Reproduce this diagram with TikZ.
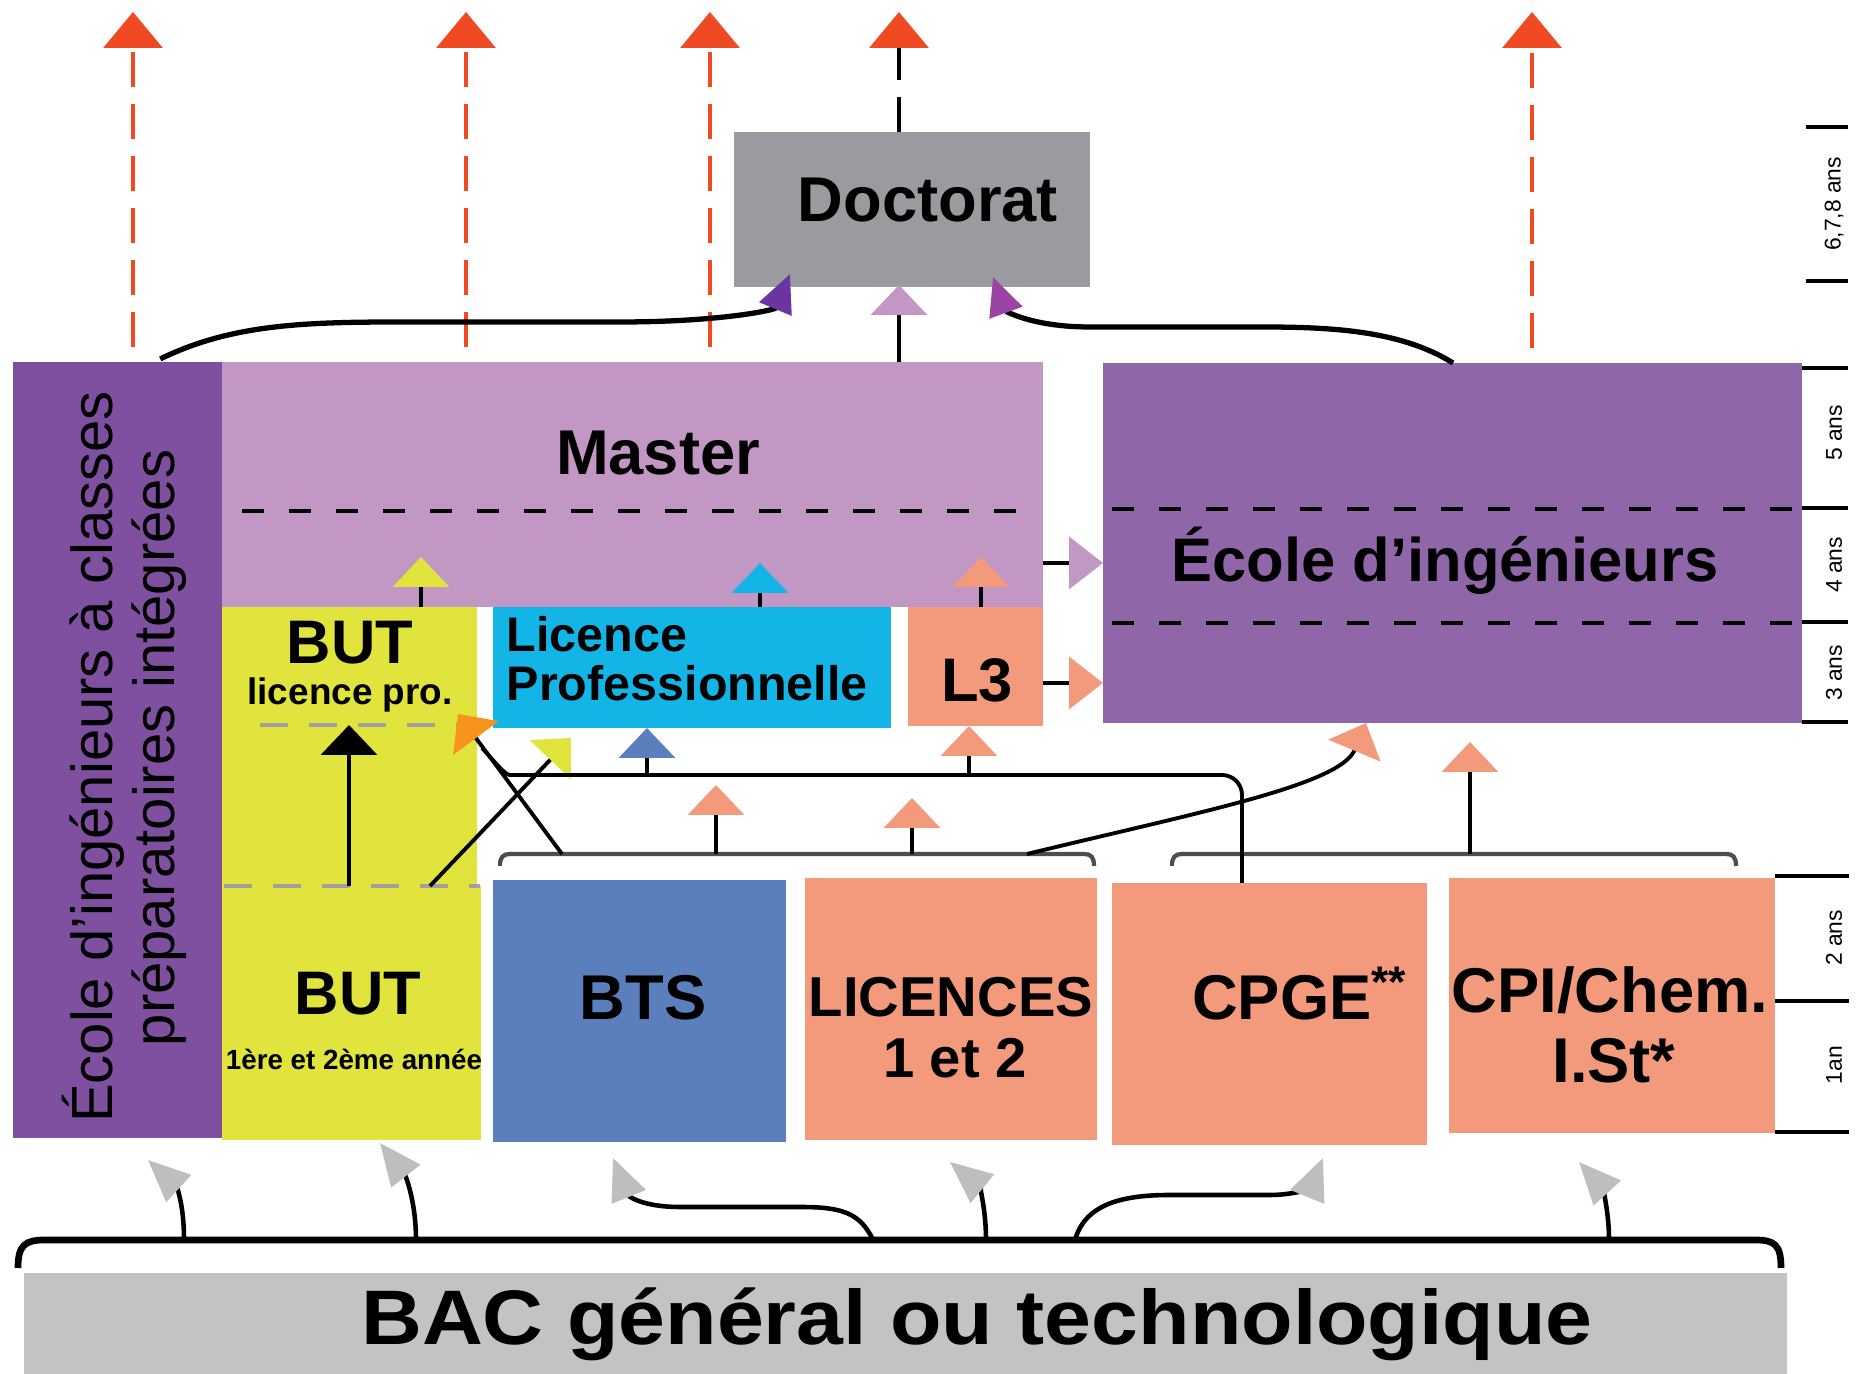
\documentclass[tikz,border=0pt]{standalone}
\usepackage{fontspec}
\setmainfont{Liberation Sans}
\usetikzlibrary{arrows.meta,fit}

\definecolor{integviolet}{RGB}{127,79,160}
\definecolor{masterlilac}{RGB}{194,151,195}
\definecolor{ecoleviolet}{RGB}{143,103,168}
\definecolor{docgray}{RGB}{154,155,158}
\definecolor{bacgray}{RGB}{193,195,196}
\definecolor{butyellow}{RGB}{224,228,60}
\definecolor{lpcyan}{RGB}{19,181,231}
\definecolor{salmon}{RGB}{243,154,125}
\definecolor{btsblue}{RGB}{91,127,189}
\definecolor{redarrow}{RGB}{240,74,35}
\definecolor{orangearrow}{RGB}{247,148,29}
\definecolor{grayarrow}{RGB}{188,190,192}
\definecolor{darkviolet}{RGB}{106,53,160}
\definecolor{plumviolet}{RGB}{154,68,163}
\definecolor{dashgray}{RGB}{160,161,158}
\definecolor{bracketgray}{RGB}{77,77,77}

\begin{document}
\begin{tikzpicture}[x=0.1mm,y=-0.1mm]
\tikzset{block/.style={ %
		fit={#1},
		inner sep=0pt,
		outer sep=0pt %
	},
	lbl/.style={ %
		anchor=base,
		inner sep=0pt,
		font=\bfseries\fontsize{#1}{#1}\selectfont %
	},
	vlbl/.style={ %
		anchor=base,
		inner sep=0pt,
		rotate=90,
		font=\fontsize{16.5}{18}\selectfont %
	},
	yrs/.style={ %
		inner sep=0pt,
		rotate=90,
		font=\fontsize{6.5}{7}\selectfont %
	},
	stem/.style={line width=1.1pt},
	tipto/.style={-{Triangle[width=5.6mm,length=3mm,color=#1,fill=#1]}},
	sidetip/.style={-{Triangle[width=5.2mm,length=3.4mm,color=#1,fill=#1]}},
	reddash/.style={ %
		draw=redarrow,
		line width=1pt,
		dash pattern=on 3.5mm off 1.7mm,
		shorten <=1.5mm,
		-{Triangle[width=5.9mm,length=3.6mm,color=redarrow,fill=redarrow]} %
	},
	doccurve/.style={line width=1.5pt, -{Triangle[width=3.4mm,length=3.8mm,color=#1,fill=#1]}},
	bacarrow/.style={line width=1.3pt, -{Triangle[width=3.6mm,length=4.2mm,color=grayarrow,fill=grayarrow]}},
	bracket/.style={draw=bracketgray, line width=1.2pt},
	yeartick/.style={line width=1.4pt},
	cutdash/.style={line width=0.9pt, dash pattern=on 2.2mm off 2.5mm},
	graydash/.style={draw=dashgray, line width=1.4pt, dash pattern=on 2.8mm off 2.1mm}
}
\useasboundingbox (0,0) rectangle (1862,1374);

% les formations
\node[block={(13,362) (222,1138)}, fill=integviolet] (integ) {};
\node[block={(222,362) (1043,607)}, fill=masterlilac] (master) {};
\node[block={(1103,363) (1802,723)}, fill=ecoleviolet] (ecole) {};
\node[block={(734,132) (1090,287)}, fill=docgray] (doct) {};
\node[block={(222,607) (477,886)}, fill=butyellow] (butlp) {};
\node[block={(222,886) (481,1140)}, fill=butyellow] (but) {};
\node[block={(493,607) (891,728)}, fill=lpcyan] (licpro) {};
\node[block={(908,607) (1043,726)}, fill=salmon] (lthree) {};
\node[block={(493,880) (786,1142)}, fill=btsblue] (bts) {};
\node[block={(805,878) (1097,1140)}, fill=salmon] (lic) {};
\node[block={(1112,883) (1427,1145)}, fill=salmon] (cpge) {};
\node[block={(1449,878) (1775,1133)}, fill=salmon] (cpichem) {};
\node[block={(24,1273) (1787,1374)}, fill=bacgray] (bac) {};

% pointilles
\draw[cutdash] (242,511) -- (1024,511);
\draw[cutdash] (1112,509) -- (1798,509);
\draw[cutdash] (1112,623) -- (1798,623);
\draw[graydash] (260,725) -- (472,725);
\draw[graydash] (224,886) -- (480,886);

% textes
\node[lbl=18] (tdoct) at (928,222) {Doctorat};
\node[lbl=18] (tmaster) at (658,475) {Master};
\node[lbl=17.5] (tecole) at (1445,582) {École d’ingénieurs};
\node[lbl=17.5] (tbutlp) at (350,664) {BUT};
\node[lbl=10.5] (tlp) at (350,705) {licence pro.};
\node[lbl=13.8, anchor=base west] (tlicpro1) at (506,652) {Licence};
\node[lbl=13.8, anchor=base west] (tlicpro2) at (506,701) {Professionnelle};
\node[lbl=17.5] (tlthree) at (977,702) {L3};
\node[lbl=17.5] (tbut) at (358,1015) {BUT};
\node[lbl=7.9] (tbutyr) at (354,1070) {1ère et 2ème année};
\node[lbl=18] (tbts) at (643,1020) {BTS};
\node[lbl=16] (tlic1) at (951,1017) {LICENCES};
\node[lbl=16] (tlic2) at (955,1078) {1 et 2};
\node[lbl=18] (tcpge) at (1300,1020) {CPGE\textsuperscript{**}};
\node[lbl=18] (tcpi1) at (1610,1013) {CPI/Chem.};
\node[lbl=18] (tcpi2) at (1614,1083) {I.St*};
\node[lbl=22, xscale=1.09] (tbac) at (977,1345) {BAC général ou technologique};
\node[vlbl] (tinteg1) at (112,757) {École d’ingénieurs à classes};
\node[vlbl] (tinteg2) at (175,748) {préparatoires intégrées};

% durees
\node[yrs] (y678) at (1834,204) {6,7,8 ans};
\node[yrs] (y5) at (1834,433) {5 ans};
\node[yrs] (y4) at (1834,565) {4 ans};
\node[yrs] (y3) at (1834,673) {3 ans};
\node[yrs] (y2) at (1834,938) {2 ans};
\node[yrs] (y1) at (1834,1065) {1an};
\foreach \y in {127,281} \draw[yeartick] (1806,\y) -- (1848,\y);
\foreach \y in {368,508,622,722} \draw[yeartick] (1802,\y) -- (1848,\y);
\foreach \y in {876,1001,1132} \draw[yeartick] (1775,\y) -- (1849,\y);

% sorties vers le haut
\coordinate (r1) at (133,12);
\coordinate (r2) at (466,12);
\coordinate (r3) at (710,12);
\coordinate (r4) at (899,12);
\coordinate (r5) at (1532,12);
\draw[reddash] (integ.north -| r1) -- (r1);
\draw[reddash] (master.north -| r2) -- (r2);
\draw[reddash] (master.north -| r3) -- (r3);
\draw[reddash, draw=black, shorten <=0pt] (doct.north -| r4) -- (r4);
\draw[reddash] (ecole.north -| r5) -- (r5);

% vers le doctorat
\coordinate (dmid) at (899,285);
\coordinate (dleft) at (790,274);
\coordinate (dright) at (993,277);
\coordinate (sleft) at (154,0);
\coordinate (sright) at (1453,0);
\draw[stem, tipto=masterlilac] (master.north -| dmid) -- (dmid);
\draw[doccurve=darkviolet, shorten <=0.7mm] (integ.north -| sleft) .. controls (230,325) and (300,322) .. (400,322)
	-- (620,322) .. controls (720,322) and (775,310) .. (dleft);
\draw[doccurve=plumviolet] (ecole.north -| sright) .. controls (1400,330) and (1330,327) .. (1260,327)
	-- (1090,327) .. controls (1030,327) and (1005,310) .. (dright);

% vers l'ecole d'ingenieurs
\coordinate (em) at (0,563);
\coordinate (el) at (0,683);
\draw[stem, sidetip=masterlilac] (master.east |- em) -- (ecole.west |- em);
\draw[stem, sidetip=salmon] (lthree.east |- el) -- (ecole.west |- el);

% vers le master
\coordinate (mb) at (421,557);
\coordinate (ml) at (760,563);
\coordinate (m3) at (981,557);
\draw[stem, tipto=butyellow] (butlp.north -| mb) -- (mb);
\draw[stem, tipto=lpcyan] (licpro.north -| ml) -- (ml);
\draw[stem, tipto=salmon] (lthree.north -| m3) -- (m3);

% BUT
\coordinate (bb) at (349,725);
\coordinate (bx) at (430,0);
\coordinate (yt) at (571,738);
\draw[stem, tipto=black] (but.north -| bb) -- (bb);
\draw[stem, tipto=butyellow] (but.north -| bx) -- (yt);

% accolades intermediaires
\draw[bracket] (500,866) .. controls (500,857) and (503,854) .. (510,854) -- (1084,854)
	.. controls (1091,854) and (1094,857) .. (1094,866);
\draw[bracket] (1172,866) .. controls (1172,857) and (1175,854) .. (1182,854) -- (1726,854)
	.. controls (1733,854) and (1736,857) .. (1736,866);
\coordinate (b1o) at (562,854);
\coordinate (b1a) at (716,854);
\coordinate (b1b) at (912,854);
\coordinate (b1c) at (1027,854);
\coordinate (b2a) at (1470,854);
\coordinate (ot) at (458,714);
\coordinate (xec) at (1366,0);
\draw[stem, tipto=orangearrow] (b1o) -- (ot);
\draw[stem, tipto=salmon] (b1a) -- ++(0,-69);
\draw[stem, tipto=salmon] (b1b) -- ++(0,-56);
\draw[stem, tipto=salmon] (b1c) .. controls (1200,812) and (1340,785) .. (ecole.south -| xec);
\draw[stem, tipto=salmon] (b2a) -- ++(0,-112);

% depuis la CPGE
\coordinate (cx) at (1242,0);
\coordinate (hlp) at (647,775);
\coordinate (hl3) at (969,775);
\draw[stem, rounded corners=2mm] (cpge.north -| cx) -- (1242,775) -- (530,775)
	.. controls (505,775) and (495,762) .. (482,748);
\draw[stem, tipto=btsblue] (hlp) -- (licpro.south -| hlp);
\draw[stem, tipto=salmon] (hl3) -- (lthree.south -| hl3);

% depuis le bac
\draw[line width=1.9pt] (18,1268) .. controls (18,1245) and (25,1240) .. (45,1240) -- (1755,1240)
	.. controls (1775,1240) and (1781,1245) .. (1781,1268);
\coordinate (g1) at (148,1160);
\coordinate (g2) at (380,1143);
\coordinate (g3) at (613,1158);
\coordinate (g4) at (950,1162);
\coordinate (g5) at (1323,1158);
\coordinate (g6) at (1579,1162);
\draw[bacarrow] (184,1240) .. controls (184,1200) and (175,1185) .. (g1);
\draw[bacarrow] (416,1240) .. controls (416,1200) and (405,1175) .. (g2);
\draw[bacarrow] (873,1240) .. controls (860,1212) and (840,1207) .. (800,1207) -- (680,1207)
	.. controls (640,1207) and (628,1195) .. (g3);
\draw[bacarrow] (986,1240) .. controls (986,1205) and (978,1185) .. (g4);
\draw[bacarrow] (1075,1240) .. controls (1085,1205) and (1120,1195) .. (1170,1195) -- (1270,1195)
	.. controls (1300,1195) and (1312,1185) .. (g5);
\draw[bacarrow] (1609,1240) .. controls (1609,1205) and (1600,1185) .. (g6);
\end{tikzpicture}
\end{document}
